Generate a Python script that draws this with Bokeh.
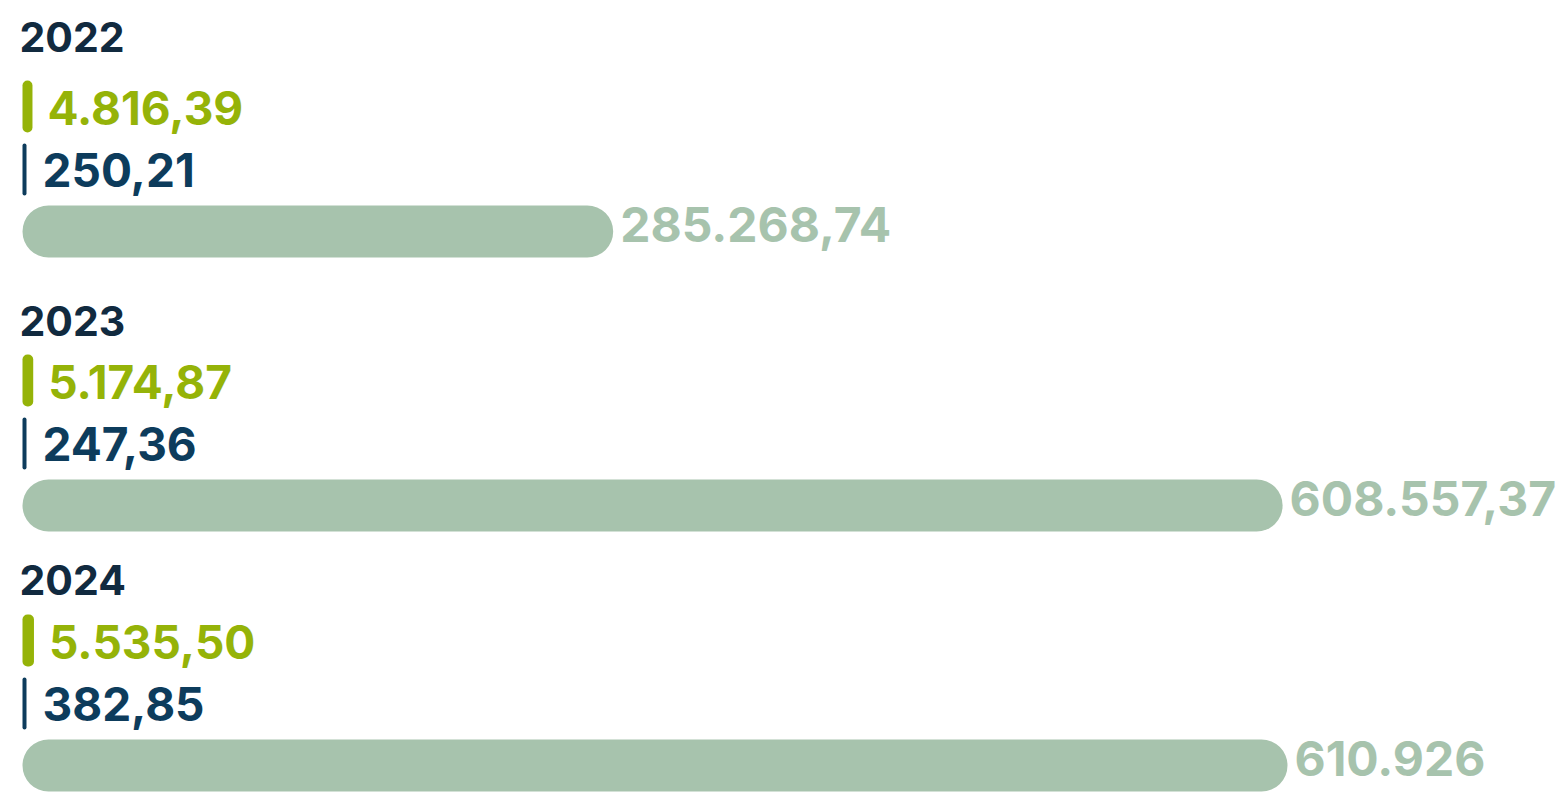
from bokeh.plotting import figure
from bokeh.models import Range1d, ColumnDataSource
from bokeh.core.properties import value
from bokeh.embed import file_html
from bokeh.resources import INLINE

# ---- data ----
years = ["2022", "2023", "2024"]
green_values = [4816.39, 5174.87, 5535.50]
blue_values = [250.21, 247.36, 382.85]
sage_values = [285268.74, 608557.37, 610926.0]
green_labels = ["4.816,39", "5.174,87", "5.535,50"]
blue_labels = ["250,21", "247,36", "382,85"]
sage_labels = ["285.268,74", "608.557,37", "610.926"]

# ---- layout ----
W, H = 1564, 794
X0 = 22
k = 1265 / max(sage_values)          # px per unit
green_top = [80, 354, 614]
year_base = [36, 320, 579]
BAR_H = 52

GREEN = "#95b308"
BLUE = "#0d3c5c"
SAGE = "#a7c3ad"
NAVY = "#112a3f"
FONT = value("Inter")

p = figure(width=W, height=H, output_backend="svg", toolbar_location=None,
           x_range=Range1d(-X0 / k, (W - X0) / k), y_range=Range1d(H, 0),
           min_border=0, outline_line_color=None)
p.axis.visible = False
p.grid.visible = False
p.background_fill_color = "white"
p.border_fill_color = "white"

gy = [t + BAR_H / 2 for t in green_top]
by = [t + 63 + BAR_H / 2 for t in green_top]
sy = [t + 125 + BAR_H / 2 for t in green_top]

def minw(vals, px):
    return [max(v, px / k) for v in vals]

src = ColumnDataSource(dict(
    years=years, gy=gy, by=by, sy=sy,
    gr=minw(green_values, 9), br=minw(blue_values, 4), sr=sage_values,
    gl=green_labels, bl=blue_labels, sl=sage_labels,
    gyt=[y + 1 for y in gy], byt=[y + 0 for y in by], syt=[y - 7 for y in sy],
    yb=year_base, zero=[0, 0, 0],
))

p.hbar(y="gy", left="zero", right="gr", height=BAR_H, source=src,
       fill_color=GREEN, line_color=None, border_radius=5)
p.hbar(y="by", left="zero", right="br", height=BAR_H, source=src,
       fill_color=BLUE, line_color=None, border_radius=2)
p.hbar(y="sy", left="zero", right="sr", height=BAR_H, source=src,
       fill_color=SAGE, line_color=None, border_radius=26)

p.text(x="zero", y="yb", text="years", source=src, x_offset=-3,
       text_baseline="alphabetic", text_font=FONT, text_font_style="bold",
       text_font_size="41px", text_color=NAVY)
p.text(x="gr", y="gyt", text="gl", source=src, x_offset=15,
       text_baseline="alphabetic", text_font=FONT, text_font_style="bold",
       text_font_size="46px", text_color=GREEN)
p.text(x="br", y="byt", text="bl", source=src, x_offset=16,
       text_baseline="alphabetic", text_font=FONT, text_font_style="bold",
       text_font_size="46px", text_color=BLUE)
p.text(x="sr", y="syt", text="sl", source=src, x_offset=7,
       text_baseline="alphabetic", text_font=FONT, text_font_style="bold",
       text_font_size="48px", text_color=SAGE)

open("out.html", "w").write(file_html(p, INLINE))
